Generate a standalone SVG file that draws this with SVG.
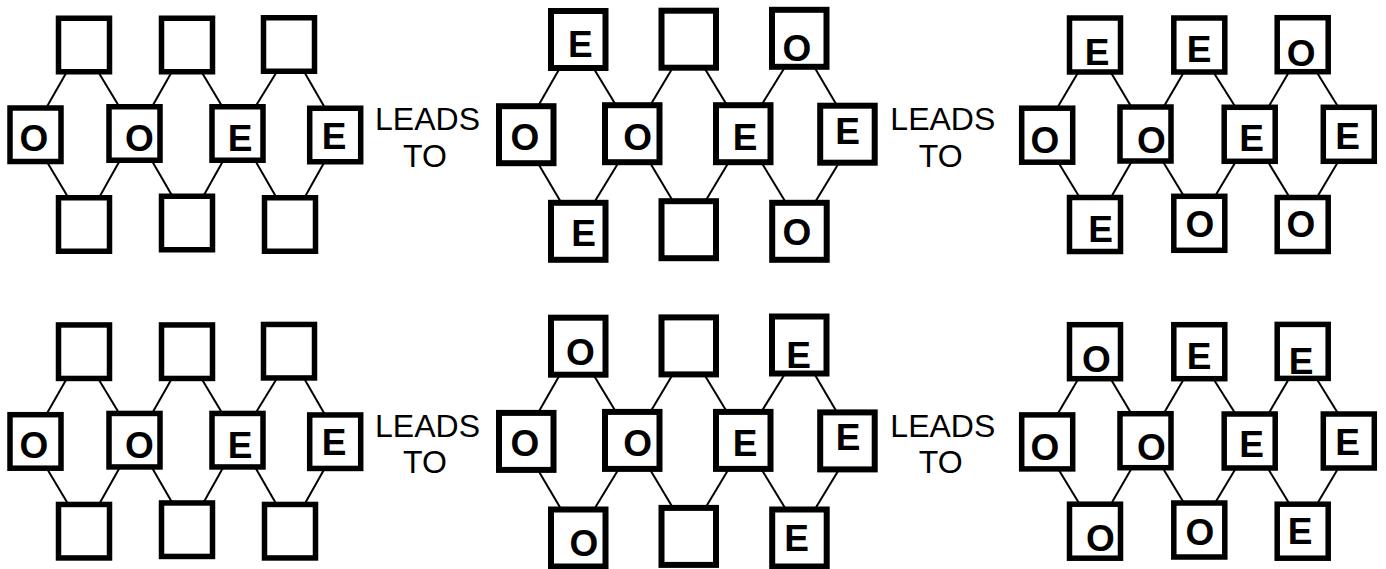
<svg xmlns="http://www.w3.org/2000/svg" xmlns:xlink="http://www.w3.org/1999/xlink" width="1386" height="569" viewBox="0 0 1386 569">
<style>
.box{fill:#fff;stroke:#000;stroke-width:5.5}
.bb{stroke-width:6}
.lbl{font-family:"Liberation Sans",Arial,Helvetica,sans-serif;font-weight:bold;font-size:37px;text-anchor:middle;fill:#000}
.cap{font-family:"Liberation Sans",Arial,Helvetica,sans-serif;font-size:32px;text-anchor:middle;fill:#000}
.conn line{stroke:#000;stroke-width:2;fill:none}
</style>
<rect width="1386" height="569" fill="#fff"/>
<g id="connectors" class="conn">
  <g id="connA">
    <line x1="67" y1="71.5" x2="46.3" y2="107.8"/>
    <line x1="98" y1="71.5" x2="119.3" y2="106.8"/>
    <line x1="172" y1="71.5" x2="152" y2="106.8"/>
    <line x1="201.3" y1="71.5" x2="223" y2="107.8"/>
    <line x1="277" y1="71.5" x2="254.7" y2="107.8"/>
    <line x1="304" y1="71.5" x2="325.3" y2="108.5"/>
    <line x1="46.3" y1="160.8" x2="68.7" y2="198.2"/>
    <line x1="120.3" y1="159.8" x2="98.7" y2="198.2"/>
    <line x1="151.3" y1="159.8" x2="172.7" y2="196.8"/>
    <line x1="223.7" y1="159.8" x2="203" y2="196.8"/>
    <line x1="254.7" y1="159.8" x2="277" y2="198.5"/>
    <line x1="325.3" y1="160.5" x2="304" y2="198.5"/>
  </g>
  <g id="connB">
    <line x1="560.3" y1="67.2" x2="538" y2="106.2"/>
    <line x1="593" y1="67.2" x2="616" y2="105.2"/>
    <line x1="673" y1="67.2" x2="650.3" y2="105.2"/>
    <line x1="704" y1="67.2" x2="727" y2="105.2"/>
    <line x1="785.3" y1="66.5" x2="761.3" y2="105.2"/>
    <line x1="814" y1="66.5" x2="837.7" y2="106.8"/>
    <line x1="538" y1="163.2" x2="561.3" y2="202.8"/>
    <line x1="618.7" y1="162.2" x2="594" y2="202.8"/>
    <line x1="649.7" y1="162.2" x2="673" y2="201.2"/>
    <line x1="728.7" y1="162.2" x2="705.3" y2="201.2"/>
    <line x1="761.3" y1="162.2" x2="786" y2="202.8"/>
    <line x1="838.7" y1="163.2" x2="814.7" y2="202.8"/>
  </g>
  <g id="connC">
    <line x1="1078.7" y1="71.5" x2="1057.3" y2="107.8"/>
    <line x1="1110.3" y1="71.5" x2="1131.3" y2="106.8"/>
    <line x1="1184.3" y1="71.5" x2="1163.7" y2="106.8"/>
    <line x1="1213" y1="71.5" x2="1235.3" y2="106.8"/>
    <line x1="1289.3" y1="71.5" x2="1268" y2="107.8"/>
    <line x1="1316.3" y1="71.5" x2="1338.7" y2="107.8"/>
    <line x1="1057.3" y1="160.8" x2="1080.3" y2="198.5"/>
    <line x1="1132.7" y1="159.8" x2="1110.3" y2="198.5"/>
    <line x1="1162.3" y1="160.5" x2="1184.3" y2="196.8"/>
    <line x1="1236.3" y1="160.8" x2="1214.7" y2="196.8"/>
    <line x1="1267.3" y1="160.8" x2="1290.3" y2="198.5"/>
    <line x1="1338.7" y1="160.8" x2="1316.3" y2="198.5"/>
  </g>
  <use href="#connA" xlink:href="#connA" transform="translate(0,306.7)"/>
  <use href="#connB" xlink:href="#connB" transform="translate(0,306.7)"/>
  <use href="#connC" xlink:href="#connC" transform="translate(0,306.7)"/>
</g>

<g id="captions">
  <text class="cap" x="427.5" y="130">LEADS</text>
  <text class="cap" x="425" y="166.7">TO</text>
  <text class="cap" x="942.8" y="130">LEADS</text>
  <text class="cap" x="940.8" y="166.7">TO</text>
  <text class="cap" x="427.5" y="436.7">LEADS</text>
  <text class="cap" x="425" y="473.4">TO</text>
  <text class="cap" x="942.8" y="436.7">LEADS</text>
  <text class="cap" x="940.8" y="473.4">TO</text>
</g>

<!-- Panel A (top-left) -->
<g id="a-t1"><rect class="box" x="58.5" y="18.25" width="51" height="53.5"/></g>
<g id="a-t2"><rect class="box" x="161.5" y="18.25" width="51" height="53.5"/></g>
<g id="a-t3"><rect class="box" x="263.5" y="17.75" width="51" height="53.5"/></g>
<g id="a-m1"><rect class="box" x="10" y="108" width="51" height="53.5"/><text class="lbl" x="34" y="151">O</text></g>
<g id="a-m2"><rect class="box" x="109" y="106.75" width="51" height="53.5"/><text class="lbl" x="139.3" y="151">O</text></g>
<g id="a-m3"><rect class="box" x="212" y="106.75" width="51" height="53.5"/><text class="lbl" x="240" y="151">E</text></g>
<g id="a-m4"><rect class="box" x="309.7" y="108.25" width="51" height="53.5"/><text class="lbl" x="334" y="148.8">E</text></g>
<g id="a-b1"><rect class="box" x="58.5" y="197.75" width="51" height="53.5"/></g>
<g id="a-b2"><rect class="box" x="161.5" y="196.25" width="51" height="53.5"/></g>
<g id="a-b3"><rect class="box" x="264.5" y="197.75" width="51" height="53.5"/></g>

<!-- Panel B (top-middle) -->
<g id="b-t1"><rect class="box bb" x="551" y="11" width="54.5" height="57"/><text class="lbl" x="580.3" y="57">E</text></g>
<g id="b-t2"><rect class="box bb" x="661.5" y="10.7" width="54.5" height="57"/></g>
<g id="b-t3"><rect class="box bb" x="772" y="9.8" width="54.5" height="57"/><text class="lbl" x="797" y="60.5">O</text></g>
<g id="b-m1"><rect class="box bb" x="499" y="106.2" width="54.5" height="57"/><text class="lbl" x="525" y="150">O</text></g>
<g id="b-m2"><rect class="box bb" x="605" y="105.2" width="54.5" height="57"/><text class="lbl" x="637.7" y="150">O</text></g>
<g id="b-m3"><rect class="box bb" x="716" y="105.2" width="54.5" height="57"/><text class="lbl" x="745.2" y="149.8">E</text></g>
<g id="b-m4"><rect class="box bb" x="820.2" y="105.7" width="54.5" height="57"/><text class="lbl" x="847.5" y="143.8">E</text></g>
<g id="b-b1"><rect class="box bb" x="551" y="202.8" width="54.5" height="57"/><text class="lbl" x="583.7" y="245.5">E</text></g>
<g id="b-b2"><rect class="box bb" x="661.5" y="201.2" width="54.5" height="57"/></g>
<g id="b-b3"><rect class="box bb" x="772.2" y="202.8" width="54.5" height="57"/><text class="lbl" x="797" y="245">O</text></g>

<!-- Panel C (top-right) -->
<g id="c-t1"><rect class="box" x="1069.5" y="18" width="51" height="54"/><text class="lbl" x="1097.2" y="64.8">E</text></g>
<g id="c-t2"><rect class="box" x="1173.8" y="18" width="51" height="54"/><text class="lbl" x="1199.2" y="62.2">E</text></g>
<g id="c-t3"><rect class="box" x="1277.2" y="17.7" width="51" height="54"/><text class="lbl" x="1301.2" y="65.5">O</text></g>
<g id="c-m1"><rect class="box" x="1021.7" y="108.2" width="51" height="54"/><text class="lbl" x="1045" y="153">O</text></g>
<g id="c-m2"><rect class="box" x="1120" y="107" width="51" height="54"/><text class="lbl" x="1151.3" y="153">O</text></g>
<g id="c-m3"><rect class="box" x="1224.2" y="107.3" width="51" height="54"/><text class="lbl" x="1251.7" y="150.5">E</text></g>
<g id="c-m4"><rect class="box" x="1323.3" y="107.3" width="51" height="54"/><text class="lbl" x="1347.5" y="148.8">E</text></g>
<g id="c-b1"><rect class="box" x="1069.5" y="197.5" width="51" height="54"/><text class="lbl" x="1100.5" y="242.2">E</text></g>
<g id="c-b2"><rect class="box" x="1173.8" y="196.3" width="51" height="54"/><text class="lbl" x="1200" y="236.8">O</text></g>
<g id="c-b3"><rect class="box" x="1277.2" y="197.5" width="51" height="54"/><text class="lbl" x="1300.8" y="236.8">O</text></g>

<g id="bottom-row" transform="translate(0,306.7)">
<!-- Panel E (bottom-left) -->
<g id="e-t1"><rect class="box" x="58.5" y="18.25" width="51" height="53.5"/></g>
<g id="e-t2"><rect class="box" x="161.5" y="18.25" width="51" height="53.5"/></g>
<g id="e-t3"><rect class="box" x="263.5" y="17.75" width="51" height="53.5"/></g>
<g id="e-m1"><rect class="box" x="10" y="108" width="51" height="53.5"/><text class="lbl" x="34" y="151">O</text></g>
<g id="e-m2"><rect class="box" x="109" y="106.75" width="51" height="53.5"/><text class="lbl" x="139.3" y="151">O</text></g>
<g id="e-m3"><rect class="box" x="212" y="106.75" width="51" height="53.5"/><text class="lbl" x="240" y="151">E</text></g>
<g id="e-m4"><rect class="box" x="309.7" y="108.25" width="51" height="53.5"/><text class="lbl" x="334" y="148.8">E</text></g>
<g id="e-b1"><rect class="box" x="58.5" y="197.75" width="51" height="53.5"/></g>
<g id="e-b2"><rect class="box" x="161.5" y="196.25" width="51" height="53.5"/></g>
<g id="e-b3"><rect class="box" x="264.5" y="197.75" width="51" height="53.5"/></g>

<!-- Panel D (bottom-middle) -->
<g id="d-t1"><rect class="box bb" x="551" y="11" width="54.5" height="57"/><text class="lbl" x="580.3" y="58.3">O</text></g>
<g id="d-t2"><rect class="box bb" x="661.5" y="10.7" width="54.5" height="57"/></g>
<g id="d-t3"><rect class="box bb" x="772" y="9.8" width="54.5" height="57"/><text class="lbl" x="798.5" y="61.8">E</text></g>
<g id="d-m1"><rect class="box bb" x="499" y="106.2" width="54.5" height="57"/><text class="lbl" x="525" y="149.8">O</text></g>
<g id="d-m2"><rect class="box bb" x="605" y="105.2" width="54.5" height="57"/><text class="lbl" x="637.7" y="149.8">O</text></g>
<g id="d-m3"><rect class="box bb" x="716" y="105.2" width="54.5" height="57"/><text class="lbl" x="745.2" y="149.8">E</text></g>
<g id="d-m4"><rect class="box bb" x="820.2" y="105.7" width="54.5" height="57"/><text class="lbl" x="848" y="143.8">E</text></g>
<g id="d-b1"><rect class="box bb" x="551" y="202.8" width="54.5" height="57"/><text class="lbl" x="583.8" y="249.3">O</text></g>
<g id="d-b2"><rect class="box bb" x="661.5" y="201.2" width="54.5" height="57"/></g>
<g id="d-b3"><rect class="box bb" x="772.2" y="202.8" width="54.5" height="57"/><text class="lbl" x="796.7" y="244.5">E</text></g>

<!-- Panel F (bottom-right) -->
<g id="f-t1"><rect class="box" x="1069.5" y="18" width="51" height="54"/><text class="lbl" x="1096.5" y="65.8">O</text></g>
<g id="f-t2"><rect class="box" x="1173.8" y="18" width="51" height="54"/><text class="lbl" x="1199" y="62.8">E</text></g>
<g id="f-t3"><rect class="box" x="1277.2" y="17.7" width="51" height="54"/><text class="lbl" x="1301.2" y="67.1">E</text></g>
<g id="f-m1"><rect class="box" x="1021.7" y="108.2" width="51" height="54"/><text class="lbl" x="1045" y="153">O</text></g>
<g id="f-m2"><rect class="box" x="1120" y="107" width="51" height="54"/><text class="lbl" x="1151.3" y="153">O</text></g>
<g id="f-m3"><rect class="box" x="1224.2" y="107.3" width="51" height="54"/><text class="lbl" x="1251.7" y="150.5">E</text></g>
<g id="f-m4"><rect class="box" x="1323.3" y="107.3" width="51" height="54"/><text class="lbl" x="1347.5" y="148.8">E</text></g>
<g id="f-b1"><rect class="box" x="1069.5" y="197.5" width="51" height="54"/><text class="lbl" x="1100.5" y="244.8">O</text></g>
<g id="f-b2"><rect class="box" x="1173.8" y="196.3" width="51" height="54"/><text class="lbl" x="1200" y="238.8">O</text></g>
<g id="f-b3"><rect class="box" x="1277.2" y="197.5" width="51" height="54"/><text class="lbl" x="1300.2" y="237.3">E</text></g>
</g>
</svg>
